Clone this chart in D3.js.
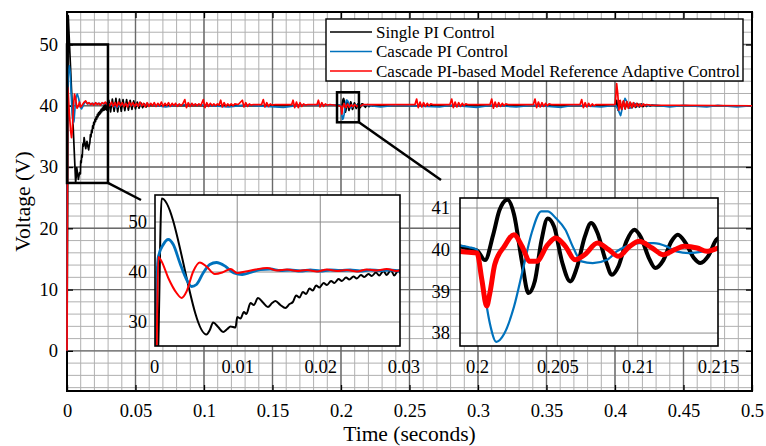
<!DOCTYPE html>
<html>
<head>
<meta charset="utf-8">
<script src="https://cdn.jsdelivr.net/npm/d3@7"></script>
<style>
  body { margin: 0; background: #fff; }
  svg text { font-family: "Liberation Serif", "Times New Roman", serif; fill: #000; }
</style>
</head>
<body>
<div id="chart"></div>
<script>
// ---- data: [time (s), voltage (V)] ----

// start-up transient, 0 - 0.03 s (left zoom)
const startBlack = [[0,0],[0.0005,25.5],[0.0009,54.7],[0.0063,27.5],[0.0067,28.4],[0.0071,29.9],[0.0077,29.0],[0.0083,28.0],[0.0088,28.6],[0.0092,29.1],[0.0098,28.9],[0.0100,31.0],[0.0104,30.7],[0.0108,32.0],[0.0111,31.6],[0.0116,33.8],[0.0120,33.4],[0.0125,34.8],[0.0131,33.9],[0.0137,33.0],[0.0142,33.8],[0.0146,34.2],[0.0152,33.4],[0.0158,32.8],[0.0163,33.6],[0.0167,34.0],[0.0171,35.3],[0.0175,34.9],[0.0179,36.0],[0.0183,35.6],[0.0187,36.7],[0.0191,36.3],[0.0195,37.3],[0.0199,36.9],[0.0204,37.8],[0.0208,37.4],[0.0213,38.2],[0.0217,37.8],[0.0222,38.6],[0.0226,38.2],[0.0231,38.9],[0.0235,38.5],[0.0240,39.1],[0.0244,38.7],[0.0249,39.4],[0.0253,39.0],[0.0258,39.6],[0.0262,39.2],[0.0267,39.9],[0.0271,39.3],[0.0276,40.2],[0.0280,39.4],[0.0285,40.4],[0.0289,39.3],[0.0294,40.3],[0.0298,39.5]];
const startBlue = [[0,0],[0.00015,25],[0.0003,37],[0.0005,43.0],[0.0011,45.5],[0.0017,46.5],[0.0023,45.5],[0.0031,41.8],[0.0039,38.5],[0.0045,37.1],[0.0051,37.5],[0.0059,39.8],[0.0067,41.5],[0.0075,41.9],[0.0086,41.1],[0.0096,39.8],[0.0106,39.5],[0.0116,39.9],[0.0128,40.5],[0.0140,40.6],[0.0152,40.3],[0.0164,40.4],[0.0176,40.2],[0.0188,40.4],[0.0200,40.2],[0.0212,40.4],[0.0224,40.3],[0.0236,40.4],[0.0248,40.2],[0.0260,40.4],[0.0272,40.3],[0.0284,40.4],[0.0296,40.2]];
const startRed = [[0,0],[0.0003,25],[0.0005,43.0],[0.0009,42.1],[0.0017,38.8],[0.0027,35.8],[0.0033,34.8],[0.0039,36.1],[0.0047,40.1],[0.0055,41.9],[0.0063,41.1],[0.0073,39.6],[0.0082,39.9],[0.0092,40.6],[0.0100,39.8],[0.0110,40.1],[0.0122,40.5],[0.0136,40.8],[0.0148,40.3],[0.0160,40.5],[0.0172,40.2],[0.0184,40.4],[0.0196,40.1],[0.0208,40.5],[0.0220,40.2],[0.0232,40.4],[0.0244,40.1],[0.0256,40.5],[0.0268,40.3],[0.0280,40.6],[0.0292,40.2],[0.0300,40.4]];

// load step near 0.2 s (right zoom)
const dipBlack = [[0.1989,40.08],[0.1995,40.02],[0.2000,39.98],[0.2005,39.75],[0.2010,40.35],[0.2014,40.95],[0.2019,41.2],[0.2023,40.85],[0.2028,39.7],[0.2032,38.96],[0.2036,39.25],[0.2040,40.2],[0.2044,40.75],[0.2048,40.55],[0.2053,39.7],[0.2058,39.24],[0.2062,39.55],[0.2067,40.3],[0.2071,40.64],[0.2075,40.4],[0.2080,39.75],[0.2084,39.4],[0.2088,39.6],[0.2093,40.2],[0.2098,40.48],[0.2102,40.3],[0.2107,39.8],[0.2111,39.56],[0.2116,39.75],[0.2121,40.2],[0.2125,40.36],[0.2130,40.15],[0.2135,39.8],[0.2139,39.68],[0.2144,39.85],[0.2149,40.24],[0.2152,40.3]];
const dipBlue = [[0.1989,40.1],[0.1995,40.06],[0.2000,40.0],[0.2002,39.6],[0.2005,38.88],[0.2008,38.23],[0.2012,37.79],[0.2017,37.99],[0.2023,38.63],[0.2029,39.6],[0.2034,40.4],[0.2040,40.92],[0.2044,40.92],[0.2049,40.76],[0.2055,40.48],[0.2060,40.04],[0.2065,39.72],[0.2072,39.68],[0.2081,39.76],[0.2087,39.96],[0.2093,40.08],[0.2101,40.16],[0.2110,40.16],[0.2118,40.08],[0.2124,39.96],[0.2132,39.92],[0.2141,39.96],[0.2150,40.04]];
const dipRed = [[0.1989,39.96],[0.1995,39.94],[0.2000,39.92],[0.2003,39.28],[0.2006,38.65],[0.2008,38.96],[0.2011,39.64],[0.2017,40.08],[0.2023,40.36],[0.2028,40.08],[0.2033,39.72],[0.2037,39.72],[0.2044,40.12],[0.2049,40.28],[0.2055,40.08],[0.2061,39.76],[0.2067,39.88],[0.2075,40.16],[0.2082,40.0],[0.2088,39.84],[0.2095,40.08],[0.2101,40.2],[0.2109,40.04],[0.2116,39.88],[0.2123,40.0],[0.2129,40.08],[0.2137,40.04],[0.2143,39.96],[0.2150,40.04]];

// rest of the run (main plot only)
const restBlackA = [[0.0305,40.9],[0.0318,39.0],[0.0331,41.1],[0.0344,39.1],[0.0357,41.2],[0.0370,39.0],[0.0383,41.1],[0.0396,39.1],[0.0409,41.0],[0.0422,39.2],[0.0435,41.0],[0.0448,39.3],[0.0461,40.9],[0.0474,39.4],[0.0487,40.8],[0.0500,39.5],[0.0513,40.6],[0.0526,39.6],[0.0539,40.5],[0.0552,39.7],[0.0565,40.3],[0.0578,39.8],[0.0591,40.2],[0.0605,40.0],[0.1000,40.0],[0.1985,40.05]];
const restBlackB = [[0.2158,40.3],[0.2166,40.1],[0.2178,39.75],[0.2192,40.2],[0.2205,39.85],[0.2218,40.1],[0.2232,39.95],[0.2245,40.05],[0.2260,40.0],[0.4005,40.0],[0.4012,40.9],[0.4022,39.3],[0.4035,40.8],[0.4048,39.4],[0.4061,40.7],[0.4074,39.5],[0.4087,40.6],[0.4100,39.6],[0.4113,40.5],[0.4126,39.7],[0.4139,40.4],[0.4152,39.75],[0.4165,40.35],[0.4178,39.8],[0.4191,40.3],[0.4204,39.85],[0.4217,40.2],[0.4230,39.9],[0.4243,40.15],[0.4256,39.95],[0.4270,40.1],[0.4300,40.0],[0.5000,40.0]];
const restBlueA = [[0.0310,40.3],[0.0360,39.7],[0.0400,40.2],[0.0500,40.1],[0.0600,40.2],[0.0720,39.8],[0.0800,40.1],[0.0900,40.2],[0.1000,40.1],[0.1180,39.8],[0.1300,40.1],[0.1580,39.75],[0.1700,40.1],[0.1985,40.1]];
const restBlueB = [[0.2158,40.1],[0.2180,40.1],[0.2290,39.8],[0.2400,40.1],[0.2720,39.8],[0.2800,40.1],[0.2990,39.75],[0.3100,40.1],[0.3280,39.8],[0.3400,40.1],[0.3610,39.75],[0.3700,40.1],[0.3900,39.8],[0.4005,40.1],[0.4020,39.5],[0.4041,38.4],[0.4057,40.0],[0.4073,41.2],[0.4090,40.5],[0.4105,39.6],[0.4120,39.7],[0.4135,40.4],[0.4150,40.3],[0.4165,39.9],[0.4180,40.0],[0.4200,40.2],[0.4230,40.0],[0.4300,40.1],[0.4400,39.8],[0.4500,40.05],[0.4670,39.8],[0.4750,40.05],[0.4890,39.8],[0.5000,40.0]];
const restRedA = [[0.0312,40.0],[0.0325,40.6],[0.0338,39.9],[0.0351,40.5],[0.0364,39.8],[0.0377,40.6],[0.0390,40.0],[0.0403,40.5],[0.0416,39.9],[0.0429,40.4],[0.0442,39.8],[0.0455,40.6],[0.0468,40.0],[0.0481,40.5],[0.0494,39.9],[0.0507,40.4],[0.0520,39.9],[0.0533,40.6],[0.0546,40.0],[0.0559,40.4],[0.0572,39.8],[0.0585,40.5],[0.0598,39.9],[0.0611,40.4],[0.0624,40.0],[0.0637,40.5],[0.0650,39.9],[0.0663,40.4],[0.0676,40.0],[0.0689,40.6],[0.0702,39.9],[0.0715,40.4],[0.0728,40.0],[0.0741,40.5],[0.0754,39.9],[0.0767,40.4],[0.0780,40.0],[0.0793,40.4],[0.0806,39.9],[0.0819,40.3],[0.0832,40.0],[0.0845,40.3],
  [0.0860,41.0],[0.0872,39.7],[0.0885,40.5],[0.0898,39.9],[0.0911,40.4],[0.0924,40.0],[0.0937,40.3],[0.0950,40.0],[0.0963,40.3],[0.0976,40.0],
  [0.0995,41.0],[0.1007,39.7],[0.1020,40.5],[0.1033,39.9],[0.1046,40.4],[0.1059,40.0],[0.1072,40.3],[0.1085,40.0],[0.1098,40.3],[0.1110,40.1],
  [0.1122,40.9],[0.1134,39.8],[0.1147,40.5],[0.1160,39.9],[0.1173,40.3],[0.1186,40.0],[0.1199,40.3],[0.1212,40.0],[0.1225,40.3],[0.1250,40.2],
  [0.1280,40.9],[0.1292,39.8],[0.1305,40.5],[0.1318,39.9],[0.1331,40.3],[0.1344,40.1],[0.1360,40.2],[0.1420,40.2],
  [0.1433,41.0],[0.1445,39.8],[0.1458,40.5],[0.1471,39.9],[0.1484,40.3],[0.1497,40.1],[0.1520,40.2],[0.1640,40.2],
  [0.1650,40.9],[0.1662,39.7],[0.1675,40.6],[0.1688,39.7],[0.1701,40.5],[0.1714,39.9],[0.1727,40.3],[0.1740,40.1],[0.1760,40.2],[0.1825,40.2],
  [0.1835,40.9],[0.1847,39.8],[0.1860,40.5],[0.1873,39.9],[0.1886,40.3],[0.1899,40.1],[0.1920,40.2],[0.1985,40.0]];
const restRedB = [[0.2160,40.2],[0.2540,40.2],
  [0.2552,41.1],[0.2564,39.7],[0.2577,40.6],[0.2590,39.8],[0.2603,40.5],[0.2616,39.9],[0.2629,40.4],[0.2642,40.0],[0.2655,40.3],[0.2670,40.2],[0.2795,40.2],
  [0.2808,41.1],[0.2820,39.7],[0.2833,40.6],[0.2846,39.8],[0.2859,40.5],[0.2872,39.9],[0.2885,40.4],[0.2898,40.0],[0.2911,40.3],[0.2925,40.2],[0.3088,40.2],
  [0.3100,41.1],[0.3112,39.6],[0.3125,40.6],[0.3138,39.8],[0.3151,40.5],[0.3164,39.9],[0.3177,40.4],[0.3190,40.0],[0.3203,40.3],[0.3220,40.2],[0.3404,40.2],
  [0.3416,41.1],[0.3428,39.7],[0.3441,40.6],[0.3454,39.8],[0.3467,40.5],[0.3480,39.9],[0.3493,40.4],[0.3506,40.0],[0.3519,40.3],[0.3535,40.2],[0.3745,40.2],
  [0.3757,41.0],[0.3769,39.7],[0.3782,40.5],[0.3795,39.8],[0.3808,40.4],[0.3821,39.9],[0.3834,40.3],[0.3847,40.0],[0.3862,40.2],[0.4000,40.2],
  [0.4006,41.5],[0.4012,43.6],[0.4020,42.0],[0.4028,39.3],[0.4038,40.9],[0.4050,39.4],[0.4062,40.8],[0.4074,39.5],[0.4086,40.7],[0.4098,39.6],[0.4110,40.6],[0.4122,39.7],[0.4134,40.5],[0.4146,39.8],[0.4158,40.4],[0.4170,39.9],[0.4182,40.3],[0.4194,39.9],[0.4206,40.3],[0.4218,40.0],[0.4230,40.2],[0.4260,40.1],[0.5000,40.0]];

const seriesNames = ['Single PI Control', 'Cascade PI Control', 'Cascade PI-based Model Reference Adaptive Control'];
const seriesColors = ['#000000', '#0072BD', '#FF0000'];

const xTicks = [0, 0.05, 0.1, 0.15, 0.2, 0.25, 0.3, 0.35, 0.4, 0.45, 0.5];
const xTickLabels = ['0', '0.05', '0.1', '0.15', '0.2', '0.25', '0.3', '0.35', '0.4', '0.45', '0.5'];
const yTicks = [0, 10, 20, 30, 40, 50];
const yTickLabels = ['0', '10', '20', '30', '40', '50'];
const zoom1XTicks = [0, 0.01, 0.02, 0.03];
const zoom1XLabels = ['0', '0.01', '0.02', '0.03'];
const zoom1YTicks = [30, 40, 50];
const zoom1YLabels = ['30', '40', '50'];
const zoom2XTicks = [0.2, 0.205, 0.21, 0.215];
const zoom2XLabels = ['0.2', '0.205', '0.21', '0.215'];
const zoom2YTicks = [38, 39, 40, 41];
const zoom2YLabels = ['38', '39', '40', '41'];

// full traces
const traces = [
  startBlack.concat(restBlackA, dipBlack, restBlackB),
  startBlue.concat(restBlueA, dipBlue, restBlueB),
  startRed.concat(restRedA, dipRed, restRedB)
];

// ---- drawing ----
const W = 766, H = 446;
const FONT = '"Liberation Serif", "Times New Roman", serif';
const plot = { left: 67, right: 752, top: 12, bottom: 391 };
const in1 = { left: 155, right: 400, top: 195, bottom: 346 };
const in2 = { left: 460, right: 718, top: 198, bottom: 346 };

const svg = d3.select('#chart').append('svg')
  .attr('width', W).attr('height', H);
svg.append('rect').attr('width', W).attr('height', H).attr('fill', '#fff');

const defs = svg.append('defs');
function addClip(id, b, pad) {
  defs.append('clipPath').attr('id', id).append('rect')
    .attr('x', b.left - pad).attr('y', b.top)
    .attr('width', b.right - b.left + 2 * pad).attr('height', b.bottom - b.top);
}
addClip('clipMain', plot, 1);
addClip('clipIn1', in1, 0);
addClip('clipIn2', in2, 0);

const x = d3.scaleLinear().domain([0, 0.5]).range([plot.left, plot.right]);
const y = d3.scaleLinear().domain([-6.55, 55.3]).range([plot.bottom, plot.top]);

// grid
const grid = svg.append('g');
grid.selectAll('.vminor').data(d3.range(0.01, 0.5, 0.01)).enter().append('line')
  .attr('x1', d => x(d)).attr('x2', d => x(d)).attr('y1', plot.top).attr('y2', plot.bottom)
  .attr('stroke', '#b0b0b0').attr('stroke-width', 1);
grid.selectAll('.hminor').data(d3.range(-6, 56, 2)).enter().append('line')
  .attr('x1', plot.left).attr('x2', plot.right).attr('y1', d => y(d)).attr('y2', d => y(d))
  .attr('stroke', '#b0b0b0').attr('stroke-width', 1);
grid.selectAll('.vmajor').data(xTicks).enter().append('line')
  .attr('x1', d => x(d)).attr('x2', d => x(d)).attr('y1', plot.top).attr('y2', plot.bottom)
  .attr('stroke', '#6a6a6a').attr('stroke-width', 1.4);
grid.selectAll('.hmajor').data(yTicks).enter().append('line')
  .attr('x1', plot.left).attr('x2', plot.right).attr('y1', d => y(d)).attr('y2', d => y(d))
  .attr('stroke', '#6a6a6a').attr('stroke-width', 1.4);

function styleAxis(g, size) {
  g.attr('font-family', null).attr('font-size', null);
  g.select('.domain').remove();
  g.selectAll('.tick line').attr('stroke', '#000').attr('stroke-width', 1.3);
  g.selectAll('.tick text').attr('font-size', size).attr('font-family', FONT).attr('fill', '#000');
}

// main axes
svg.append('g').attr('transform', `translate(0,${plot.bottom})`)
  .call(d3.axisBottom(x).tickValues(xTicks).tickFormat((d, i) => xTickLabels[i]).tickSize(-6).tickPadding(13))
  .call(g => styleAxis(g, 18.5));
svg.append('g').attr('transform', `translate(0,${plot.top})`)
  .call(d3.axisTop(x).tickValues(xTicks).tickFormat('').tickSize(-6))
  .call(g => styleAxis(g, 18.5));
svg.append('g').attr('transform', `translate(${plot.left},0)`)
  .call(d3.axisLeft(y).tickValues(yTicks).tickFormat((d, i) => yTickLabels[i]).tickSize(-6).tickPadding(9))
  .call(g => styleAxis(g, 18.5));
svg.append('g').attr('transform', `translate(${plot.right},0)`)
  .call(d3.axisRight(y).tickValues(yTicks).tickFormat('').tickSize(-6))
  .call(g => styleAxis(g, 18.5));

svg.append('rect')
  .attr('x', plot.left).attr('y', plot.top)
  .attr('width', plot.right - plot.left).attr('height', plot.bottom - plot.top)
  .attr('fill', 'none').attr('stroke', '#000').attr('stroke-width', 2);

// main traces
const mainLine = d3.line().x(d => x(d[0])).y(d => y(d[1]));
const mainG = svg.append('g').attr('clip-path', 'url(#clipMain)');
traces.forEach((t, i) => {
  mainG.append('path').datum(t)
    .attr('fill', 'none').attr('stroke', seriesColors[i])
    .attr('stroke-width', 1.7).attr('stroke-linejoin', 'round')
    .attr('d', mainLine);
});

// axis titles
svg.append('text')
  .attr('x', (plot.left + plot.right) / 2).attr('y', 441)
  .attr('text-anchor', 'middle').attr('font-size', 21.5)
  .text('Time (seconds)');
svg.append('text')
  .attr('transform', `translate(30,${(plot.top + plot.bottom) / 2}) rotate(-90)`)
  .attr('text-anchor', 'middle').attr('font-size', 21.5)
  .text('Voltage (V)');

// zoom boxes and connectors
function zoomBox(t0, t1, v0, v1) {
  svg.append('rect')
    .attr('x', x(t0)).attr('y', y(v1))
    .attr('width', x(t1) - x(t0)).attr('height', y(v0) - y(v1))
    .attr('fill', 'none').attr('stroke', '#000').attr('stroke-width', 2.5);
}
zoomBox(0, 0.0299, 27.4, 50);
zoomBox(0.1971, 0.2131, 37.3, 42.2);
svg.append('line')
  .attr('x1', x(0.0299)).attr('y1', y(27.4)).attr('x2', in1.left - 14).attr('y2', in1.top + 5)
  .attr('stroke', '#000').attr('stroke-width', 2.5);
svg.append('line')
  .attr('x1', x(0.2131)).attr('y1', y(37.3)).attr('x2', in2.left - 19).attr('y2', in2.top - 18)
  .attr('stroke', '#000').attr('stroke-width', 2.5);

// inset panels
function drawInset(b, clipId, xDom, yDom, xT, xL, yT, yL, yPad, widths) {
  const xs = d3.scaleLinear().domain(xDom).range([b.left, b.right]);
  const ys = d3.scaleLinear().domain(yDom).range([b.bottom, b.top]);
  svg.append('rect')
    .attr('x', b.left).attr('y', b.top)
    .attr('width', b.right - b.left).attr('height', b.bottom - b.top)
    .attr('fill', '#fff');
  const gg = svg.append('g');
  gg.selectAll('.v').data(xT.filter(d => d > xDom[0] && d < xDom[1])).enter().append('line')
    .attr('x1', d => xs(d)).attr('x2', d => xs(d)).attr('y1', b.top).attr('y2', b.bottom)
    .attr('stroke', '#8c8c8c').attr('stroke-width', 1);
  gg.selectAll('.h').data(yT).enter().append('line')
    .attr('x1', b.left).attr('x2', b.right).attr('y1', d => ys(d)).attr('y2', d => ys(d))
    .attr('stroke', '#8c8c8c').attr('stroke-width', 1);

  const ln = d3.line().x(d => xs(d[0])).y(d => ys(d[1])).curve(d3.curveMonotoneX);
  const g = svg.append('g').attr('clip-path', `url(#${clipId})`);
  traces.forEach((t, i) => {
    g.append('path').datum(t.filter(d => d[0] >= xDom[0] - 0.002 && d[0] <= xDom[1] + 0.002))
      .attr('fill', 'none').attr('stroke', seriesColors[i])
      .attr('stroke-width', widths[i]).attr('stroke-linejoin', 'round')
      .attr('d', ln);
  });

  svg.append('g').attr('transform', `translate(0,${b.bottom})`)
    .call(d3.axisBottom(xs).tickValues(xT).tickFormat((d, i) => xL[i]).tickSize(0).tickPadding(14))
    .call(a => styleAxis(a, 18.5));
  svg.append('g').attr('transform', `translate(${b.left},0)`)
    .call(d3.axisLeft(ys).tickValues(yT).tickFormat((d, i) => yL[i]).tickSize(0).tickPadding(yPad))
    .call(a => styleAxis(a, 18.5));
  svg.append('rect')
    .attr('x', b.left).attr('y', b.top)
    .attr('width', b.right - b.left).attr('height', b.bottom - b.top)
    .attr('fill', 'none').attr('stroke', '#000').attr('stroke-width', 1.6);
}
drawInset(in1, 'clipIn1', [0.0001, 0.0296], [25.2, 55.4], zoom1XTicks, zoom1XLabels, zoom1YTicks, zoom1YLabels, 8, [2, 2.8, 2]);
drawInset(in2, 'clipIn2', [0.19894, 0.215], [37.69, 41.24], zoom2XTicks, zoom2XLabels, zoom2YTicks, zoom2YLabels, 10, [4, 2.2, 5]);

// legend
const legend = svg.append('g');
legend.append('rect')
  .attr('x', 326).attr('y', 19).attr('width', 417).attr('height', 62)
  .attr('fill', '#fff').attr('stroke', '#000').attr('stroke-width', 1.4);
seriesNames.forEach((name, i) => {
  const ly = 32 + i * 19.5;
  legend.append('line')
    .attr('x1', 330).attr('x2', 372).attr('y1', ly).attr('y2', ly)
    .attr('stroke', seriesColors[i]).attr('stroke-width', 1.6);
  legend.append('text')
    .attr('x', 376).attr('y', ly).attr('dy', '0.35em')
    .attr('font-size', 17)
    .text(name);
});
</script>
</body>
</html>
